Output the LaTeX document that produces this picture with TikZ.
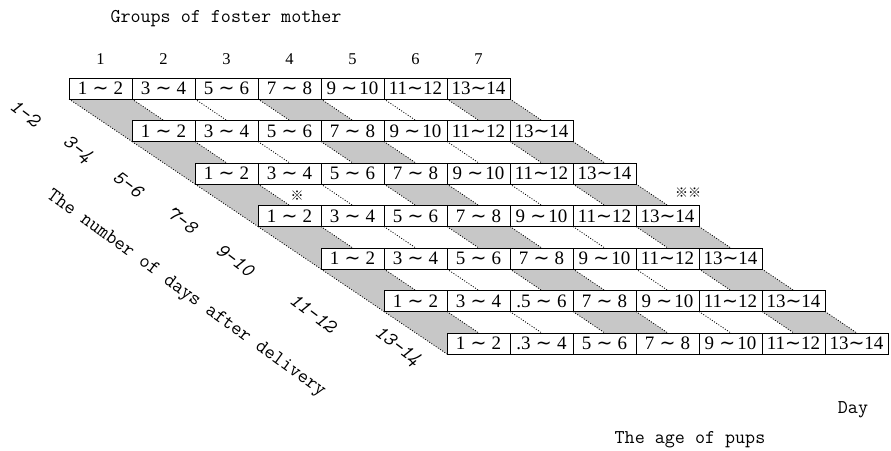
\documentclass[tikz,border=0pt]{standalone}
\usepackage{fontspec}
\setmainfont{Liberation Serif}
\newfontfamily\symf{DejaVu Sans}
\newfontfamily\cjk{Noto Sans CJK JP}
\usetikzlibrary{backgrounds}
\newcommand\wa{\;{\symf ∼}\;}
\newcommand\wb{{\symf ∼}}
\begin{document}
\begin{tikzpicture}[x=1pt,y=-1pt,
  cell/.style={draw,line width=0.8pt,fill=white,minimum width=63pt,minimum height=21pt,
    inner sep=0pt,outer sep=0pt,anchor=north west,font=\fontsize{19}{19}\selectfont},
  shadearea/.style={fill=black!22},
  diag/.style={line width=0.8pt,dash pattern=on 1pt off 1.6pt},
  grp/.style={font=\fontsize{16.5}{16.5}\selectfont},
  daylab/.style={font=\ttfamily\itshape\fontsize{20}{20}\selectfont,rotate=-37},
  ttlab/.style={font=\ttfamily\fontsize{19.5}{20}\selectfont}]
\useasboundingbox (0,0) rectangle (891,450);
% cells
\foreach \k in {0,...,6}{
  \foreach \j/\lbl in {0/{1\wa 2},1/{3\wa 4},2/{5\wa 6},3/{7\wa 8},4/{9\wa\!10},5/{11\wb 12},6/{13\wb 14}}{
    \def\pre{}
    \ifnum\k=5 \ifnum\j=2 \def\pre{.}\fi\fi
    \ifnum\k=6 \ifnum\j=1 \def\pre{.}\fi\fi
    \node[cell] (c-\k-\j) at ({69+63*(\k+\j)},{78+42.5*\k}) {\pre\lbl};
  }
}
% shaded slabs and dotted edges
\begin{scope}[on background layer]
\fill[white] (0,0) rectangle (891,450);
\foreach \k in {0,...,5}{
  \pgfmathtruncatemacro\kn{\k+1}
  \foreach \j in {0,3,6}{
    \fill[shadearea] (c-\k-\j.south west) -- (c-\k-\j.south east) -- (c-\kn-\j.south east) -- (c-\kn-\j.south west) -- cycle;
  }
  \foreach \j in {0,...,6}{
    \draw[diag] (c-\k-\j.south west) -- (c-\kn-\j.south west);
  }
  \draw[diag] (c-\k-6.south east) -- (c-\kn-6.south east);
}
\end{scope}
% group numbers
\foreach \j in {1,...,7}{
  \node[grp] (g\j) at ({69+63*(\j-1)+31.5},59) {\j};
}
\node[ttlab] (title) at (226,19) {Groups of foster mother};
% day labels
\node[daylab] (d1) at (25,113) {1-2};
\node[daylab] (d2) at (77,150) {3-4};
\node[daylab] (d3) at (128,184) {5-6};
\node[daylab] (d4) at (182,220) {7-8};
\node[daylab] (d5) at (235,260) {9-10};
\node[daylab] (d6) at (313,313) {11-12};
\node[daylab] (d7) at (397,347) {13-14};
\node[font=\ttfamily\fontsize{20}{20}\selectfont,rotate=-36] (axis) at (186,294) {The number of days after delivery};
\node[font=\cjk\fontsize{13}{13}\selectfont] (m1) at (297,196) {※};
\node[font=\cjk\fontsize{13}{13}\selectfont] (m2) at (688,193) {※※};
\node[ttlab] (day) at (853,410) {Day};
\node[ttlab] (age) at (690,440) {The age of pups};
\end{tikzpicture}
\end{document}
